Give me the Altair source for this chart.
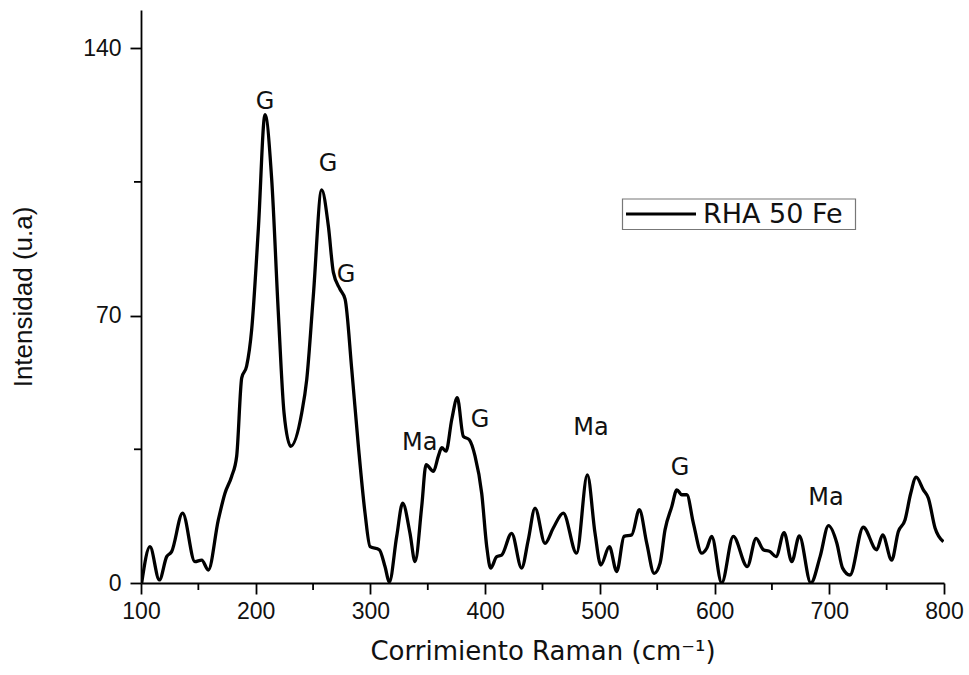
import altair as alt
import pandas as pd

# Raman shift (cm^-1) and intensity (u.a)
shift = [100.6, 107.8, 116.0, 122.4, 126.7, 136.3, 147.0, 152.9, 158.7, 167.4,
         173.2, 179.0, 183.4, 187.8, 192.1, 196.5, 202.3, 208.1, 213.9, 219.7,
         224.7, 230.5, 240.1, 244.5, 250.2, 257.5, 263.3, 267.7, 273.5, 277.9,
         283.7, 289.5, 295.3, 299.7, 307.8, 312.7, 316.5, 322.9, 328.1, 334.5,
         338.9, 344.7, 348.5, 354.9, 359.2, 362.2, 365.9, 370.9, 375.7, 381.0,
         386.2, 391.2, 397.0, 401.4, 404.8, 410.1, 414.4, 423.1, 431.8, 437.6,
         443.5, 452.2, 459.4, 468.1, 479.7, 489.1, 495.8, 500.8, 508.3, 514.7,
         521.1, 527.8, 534.4, 540.9, 547.3, 552.5, 556.8, 562.7, 567.1, 571.4,
         575.8, 581.5, 588.8, 593.2, 597.5, 606.2, 616.3, 628.5, 636.2, 642.5,
         648.4, 653.6, 660.6, 667.3, 673.9, 683.9, 692.0, 699.3, 706.6, 711.6,
         718.0, 729.6, 741.3, 746.5, 754.4, 760.2, 766.0, 771.0, 775.7, 782.0,
         786.4, 792.2, 799.5]
intensity = [0.0, 9.5, 0.8, 6.9, 8.2, 18.3, 5.6, 6.0, 3.4, 16.5,
             23.5, 27.9, 33.2, 53.7, 56.8, 66.4, 92.7, 122.6, 105.8, 70.8,
             44.5, 35.8, 44.5, 53.3, 75.1, 102.9, 93.5, 81.3, 76.9, 74.3,
             56.0, 35.8, 18.3, 9.5, 8.7, 4.3, 0.3, 12.2, 20.9, 13.0,
             5.6, 20.0, 31.0, 29.2, 33.2, 35.4, 34.5, 42.8, 48.5, 38.4,
             37.5, 33.2, 23.5, 9.5, 3.9, 6.9, 7.3, 13.0, 3.9, 11.3,
             19.6, 10.4, 14.4, 18.3, 7.8, 28.3, 13.0, 4.7, 9.5, 3.0,
             12.2, 12.6, 19.2, 10.4, 2.5, 5.2, 13.9, 20.0, 24.4, 23.1,
             23.1, 15.7, 7.8, 9.1, 12.2, 0.0, 12.2, 4.3, 11.7, 8.7,
             8.2, 6.9, 13.2, 5.6, 12.3, 0.0, 6.9, 15.0, 10.4, 3.9,
             2.1, 14.6, 8.7, 12.6, 6.0, 13.5, 16.5, 23.5, 27.7, 24.4,
             22.2, 14.4, 10.8]
series_name = ["RHA 50 Fe"]

# Peak annotations
ann_text = ["G", "G", "G", "Ma", "G", "Ma", "G", "Ma"]
ann_x = [208.1, 263.0, 278.7, 343.0, 395.6, 492.3, 569.9, 697.2]
ann_y = [126.0, 109.7, 80.6, 36.7, 42.8, 40.7, 30.2, 22.3]

x_major = [100, 200, 300, 400, 500, 600, 700, 800]
x_minor = [150, 250, 350, 450, 550, 650, 750]
y_major = [0, 70, 140]
y_minor = [35, 105]

ARIAL = "Liberation Sans"
WIDE = "DejaVu Sans"

df = pd.DataFrame({"shift": shift, "intensity": intensity,
                   "series": series_name * len(shift)})
ann = pd.DataFrame({"label": ann_text, "x": ann_x, "y": ann_y})
leg = pd.DataFrame({"series": series_name})
xmin_df = pd.DataFrame({"v": x_minor})
ymin_df = pd.DataFrame({"v": y_minor})

xscale = alt.Scale(domain=[100, 800], nice=False, zero=False)
yscale = alt.Scale(domain=[0, 150], nice=False, zero=False)

line = alt.Chart(df).mark_line(
    strokeWidth=3.3, interpolate="monotone", clip=True, color="black"
).encode(
    x=alt.X("shift:Q", scale=xscale,
            title="Corrimiento Raman (cm⁻¹)",
            axis=alt.Axis(values=x_major, format="d", orient="bottom",
                          labelFontSize=23, tickSize=11, labelPadding=6)),
    y=alt.Y("intensity:Q", scale=yscale,
            title="Intensidad (u.a)",
            axis=alt.Axis(values=y_major, format="d", orient="left",
                          labelFontSize=23, tickSize=11, labelPadding=9))
)

text = alt.Chart(ann).mark_text(
    font=WIDE, fontSize=24, color="#111", baseline="middle", align="center"
).encode(
    x=alt.X("x:Q", scale=xscale),
    y=alt.Y("y:Q", scale=yscale),
    text="label:N"
)

# Minor ticks, placed through the shared scales just outside the axes
x_minor_ticks = alt.Chart(xmin_df).mark_rule(
    color="black", strokeWidth=1.8, clip=False
).encode(
    x=alt.X("v:Q", scale=xscale),
    y=alt.value(573), y2=alt.value(580)
)
y_minor_ticks = alt.Chart(ymin_df).mark_rule(
    color="black", strokeWidth=1.8, clip=False
).encode(
    y=alt.Y("v:Q", scale=yscale),
    x=alt.value(-7), x2=alt.value(0)
)

# Legend box (drawn in the plot's top-right area)
leg_box = alt.Chart(leg).mark_rect(
    fill="white", stroke="#777", strokeWidth=1.2
).encode(
    x=alt.value(481.5), x2=alt.value(714.5),
    y=alt.value(189), y2=alt.value(219.5)
)
leg_line = alt.Chart(leg).mark_rule(
    color="black", strokeWidth=3
).encode(
    x=alt.value(485), x2=alt.value(555), y=alt.value(204)
)
leg_text = alt.Chart(leg).mark_text(
    font=WIDE, fontSize=27, color="#111", align="left", baseline="middle"
).encode(
    x=alt.value(562), y=alt.value(205), text="series:N"
)

chart = alt.layer(
    line, text, x_minor_ticks, y_minor_ticks, leg_box, leg_line, leg_text
).properties(
    width=803, height=573,
    autosize=alt.AutoSizeParams(type="none"),
    padding={"left": 141, "top": 10, "right": 25, "bottom": 92},
    background="white"
).configure_view(stroke=None).configure_axis(
    grid=False, domainColor="black", domainWidth=1.8,
    tickColor="black", tickWidth=1.8, tickSize=11,
    labelFlush=False, labelOverlap=False,
    labelFontSize=23, labelFont=ARIAL, labelColor="#111",
    titleFontWeight="normal", titleColor="#111", titleFontSize=26
).configure_axisX(
    labelPadding=6, titleFont=WIDE, titlePadding=15
).configure_axisY(
    labelPadding=9, titleFont=ARIAL, titlePadding=46
)

chart.save("out.html", embed_options={"renderer": "svg", "actions": False})
